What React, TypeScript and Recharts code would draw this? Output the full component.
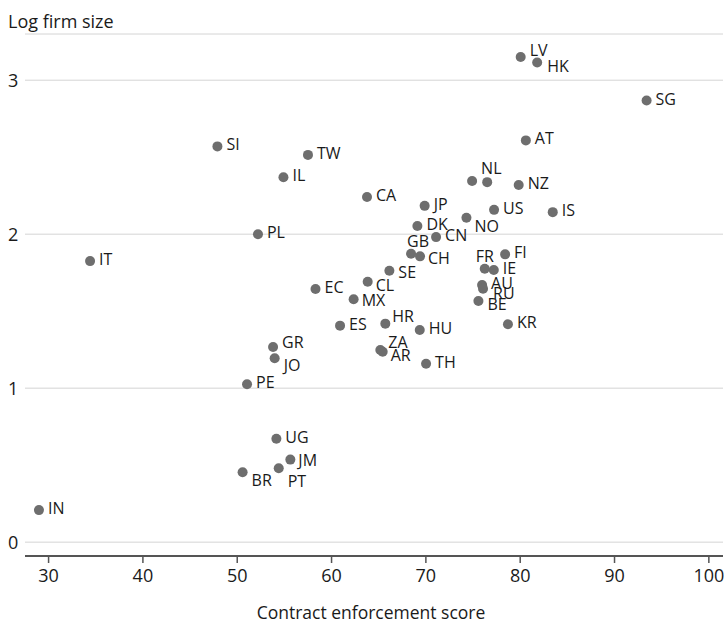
import React from 'react'
import {
  ScatterChart,
  Scatter,
  XAxis,
  YAxis,
  CartesianGrid,
  Label,
} from 'recharts'

const countries = [
  'LV', 'HK', 'SG', 'AT', 'SI', 'TW', 'IL', 'NL', '', 'NZ',
  'CA', 'JP', 'US', 'IS', 'NO', 'DK', 'CN', 'PL', 'IT', 'GB',
  'CH', 'FR', 'FI', 'IE', 'SE', 'CL', 'AU', 'RU', 'EC', 'MX',
  'BE', 'ES', 'HR', 'HU', 'KR', 'GR', 'ZA', 'AR', 'JO', 'TH',
  'PE', 'UG', 'JM', 'PT', 'BR', 'IN',
]
const enforcement = [
  80.05, 81.8, 93.4, 80.6, 47.9, 57.5, 54.9, 74.9, 76.5, 79.84,
  63.76, 69.87, 77.23, 83.45, 74.3, 69.1, 71.08, 52.2, 34.4, 68.43,
  69.38, 76.24, 78.4, 77.2, 66.13, 63.83, 75.96, 76.06, 58.3, 62.34,
  75.57, 60.9, 65.7, 69.35, 78.7, 53.8, 65.17, 65.42, 53.97, 70.02,
  51.04, 54.15, 55.63, 54.4, 50.57, 28.98,
]
const firmSize = [
  3.151, 3.115, 2.868, 2.609, 2.57, 2.515, 2.37, 2.345, 2.338, 2.319,
  2.241, 2.184, 2.158, 2.143, 2.107, 2.053, 1.981, 2.0, 1.825, 1.873,
  1.856, 1.776, 1.869, 1.767, 1.763, 1.691, 1.67, 1.646, 1.644, 1.577,
  1.566, 1.406, 1.419, 1.378, 1.415, 1.267, 1.248, 1.237, 1.194, 1.159,
  1.025, 0.672, 0.536, 0.48, 0.454, 0.208,
]
const xTicks = [30, 40, 50, 60, 70, 80, 90, 100]
const yTicks = [0, 1, 2, 3]

const data = countries.map((c, i) => ({ name: c, x: enforcement[i], y: firmSize[i] }))

// where each country code sits relative to its dot
const labelOffset: Record<string, [number, number]> = {
  LV: [9, -7], HK: [10, 4], NL: [9, -13], NO: [8, 8], GB: [-4, -13],
  CH: [8, 2], FR: [-9, -13], RU: [10, 4], BE: [9, 3], CL: [8, 3],
  MX: [8, 1], HR: [7, -8], ZA: [8, -8], AR: [8, 3], JO: [9, 7],
  GR: [9, -5], BR: [9, 8], PT: [9, 13], JM: [8, 0], SE: [9, 1],
}

const font = '"Open Sans", sans-serif'
const ink = '#1a1a1a'

const Dot = (props: any) => {
  const { cx, cy, payload } = props
  const [dx, dy] = labelOffset[payload.name] || [9, -2]
  return (
    <g>
      <circle cx={cx} cy={cy} r={5} fill="#6e6e6e" />
      {payload.name && (
        <text
          x={cx + dx}
          y={cy + dy}
          dominantBaseline="central"
          fontSize={16}
          fontFamily={font}
          fill={ink}
        >
          {payload.name}
        </text>
      )}
    </g>
  )
}

const YTick = (props: any) => {
  const { y, payload } = props
  return (
    <text x={8} y={y} dominantBaseline="central" fontSize={18} fontFamily={font} fill={ink}>
      {payload.value}
    </text>
  )
}

export default function App() {
  return (
    <div style={{ position: 'absolute', left: 0, top: 0, background: '#fff' }}>
      <ScatterChart
        width={727}
        height={624}
        margin={{ top: 34, right: 4, left: 0, bottom: 0 }}
      >
        <CartesianGrid vertical={false} stroke="#d4d4d4" />
        <XAxis
          type="number"
          dataKey="x"
          domain={[27.5, 101.5]}
          ticks={xTicks}
          allowDataOverflow
          height={68}
          tickSize={7}
          tickMargin={6}
          axisLine={{ stroke: '#555', strokeWidth: 2 }}
          tickLine={{ stroke: '#555', strokeWidth: 1.5 }}
          tick={{ fontSize: 18, fontFamily: font, fill: ink }}
        >
          <Label
            content={() => (
              <text x={371} y={619} textAnchor="middle" fontSize={17.5} fontFamily={font} fill={ink}>
                Contract enforcement score
              </text>
            )}
          />
        </XAxis>
        <YAxis
          type="number"
          dataKey="y"
          domain={[-0.09, 3.3]}
          ticks={yTicks}
          allowDataOverflow
          width={25}
          axisLine={false}
          tickLine={false}
          tick={<YTick />}
          label={{
            content: () => (
              <text x={8} y={28} fontSize={18} fontFamily={font} fill={ink}>
                Log firm size
              </text>
            ),
          }}
        />
        <Scatter data={data} shape={<Dot />} isAnimationActive={false} />
      </ScatterChart>
    </div>
  )
}
